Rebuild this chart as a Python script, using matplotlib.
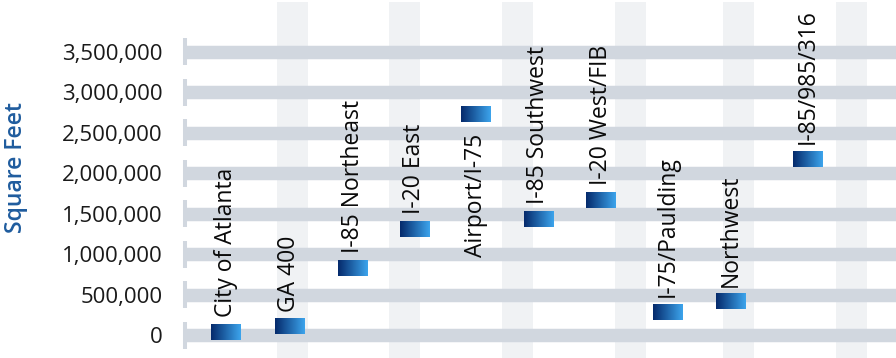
import numpy as np
import matplotlib
matplotlib.use("Agg")
import matplotlib.pyplot as plt
from matplotlib.colors import LinearSegmentedColormap
from matplotlib.ticker import FuncFormatter

plt.rcParams['font.family'] = ['Open Sans', 'DejaVu Sans']

# submarkets and their square footage
categories = ["City of Atlanta", "GA 400", "I-85 Northeast", "I-20 East",
              "Airport/I-75", "I-85 Southwest", "I-20 West/FIB",
              "I-75/Paulding", "Northwest", "I-85/985/316"]
values = [35000, 105000, 825000, 1305000, 2730000,
          1430000, 1665000, 285000, 415000, 2170000]
# horizontal position of each submarket along the x axis
x_pos = [0.70, 1.71, 2.73, 3.71, 4.69, 5.69, 6.69, 7.76, 8.76, 10.0]
# label above (True) or below (False) the marker
label_above = [True, True, True, True, False, True, True, True, True, True]
y_ticks = [0, 500000, 1000000, 1500000, 2000000, 2500000, 3000000, 3500000]
# alternate shaded columns in the background
col_starts = [1.52, 3.31, 5.11, 6.92, 8.64, 10.45]
col_width = 0.49

band_color = '#d1d7df'
col_color = '#f0f2f4'
grad = LinearSegmentedColormap.from_list('bluegrad', ['#052a6c', '#3ca4ec'])

W, H = 896, 358
fig = plt.figure(figsize=(W / 100, H / 100), dpi=100)
ax = fig.add_axes([183 / W, 0, (W - 183) / W, 356 / H])

ax.set_xlim(0.016, 11.406)
ax.set_ylim(-277500, 4112700)

for s in col_starts:
    ax.axvspan(s, s + col_width, color=col_color, lw=0, zorder=0)

for v in y_ticks:
    ax.axhline(v, color=band_color, lw=9.7, zorder=1, solid_capstyle='butt')
    ax.vlines(0.048, v - 166000, v + 166000, color=band_color, lw=2.9,
              zorder=1, clip_on=False)

# gradient markers
gimg = np.linspace(0, 1, 64).reshape(1, -1)
mw, mh = 0.232, 92500
for x, v, name, above in zip(x_pos, values, categories, label_above):
    ax.imshow(gimg, cmap=grad, aspect='auto', zorder=3,
              extent=[x - mw, x + mw, v - mh, v + mh], interpolation='bilinear')
    if above:
        ax.annotate(name, (x, v), xytext=(0, 11), textcoords='offset points',
                    rotation=90, ha='center', va='bottom', fontsize=16.5,
                    color='#0a0a0a', zorder=4)
    else:
        ax.annotate(name, (x, v), xytext=(0, -14), textcoords='offset points',
                    rotation=90, ha='center', va='top', fontsize=16.5,
                    color='#0a0a0a', zorder=4)

ax.set_aspect('auto')
ax.set_yticks(y_ticks)
ax.yaxis.set_major_formatter(FuncFormatter(lambda v, p: f"{int(v):,}"))
ax.tick_params(axis='y', length=0, pad=14.5, labelsize=16, labelcolor='#1a1a1a')
ax.set_xticks([])
for sp in ax.spines.values():
    sp.set_visible(False)

fig.text(16 / W, 1 - 167.5 / H, "Square Feet", rotation=90, ha='center',
         va='center', fontsize=16.5, color='#1f5c9e', fontweight='semibold')

fig.savefig('out.png', dpi=100)
